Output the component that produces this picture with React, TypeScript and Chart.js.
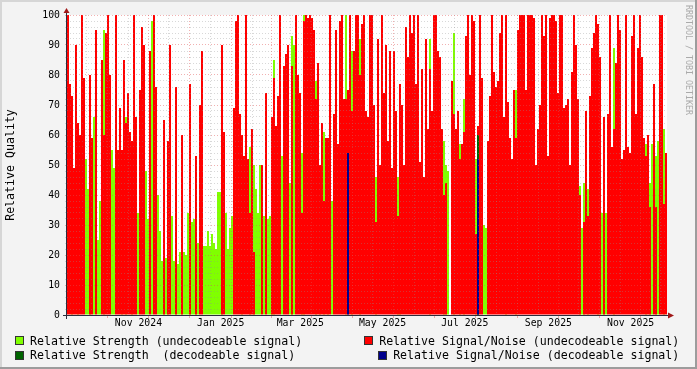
import { useEffect, useRef } from 'react';
import { Chart, registerables } from 'chart.js';

Chart.register(...registerables);

// Time span of the graph (UTC days)
const START = Date.UTC(2024, 8, 24);
const END = Date.UTC(2025, 11, 13);
const BIN_COUNT = 300;

// Relative Signal/Noise (undecodeable signal), one value per time bin
const snrUndecodeable: (number | null)[] = [
  100, 77, 73, 49, 90, 64, 60, 100, 79, null,
  null, 80, 59, null, 95, null, null, 85, 60, 94,
  100, 80, null, null, 100, 55, 69, 55, 85, 64,
  74, 61, 58, 100, 66, null, 75, 96, 90, null,
  null, 88, null, 100, 76, null, null, null, 65, null,
  58, 90, null, null, 76, null, null, 60, null, null,
  null, 77, null, null, 53, null, 70, 88, null, null,
  null, null, null, null, null, null, null, 90, 61, null,
  null, null, null, 69, 98, 100, 67, 60, 53, 100,
  52, 34, 62, 21, null, null, null, 50, null, 74,
  null, null, 66, 79, 63, 73, 100, null, 83, 87,
  90, null, 83, null, 100, 80, 74, 34, 98, 100,
  99, 100, 99, 95, 72, 84, 50, 64, 38, 59,
  59, 100, null, 67, 95, 57, 98, 100, 72, 72,
  75, 100, 68, 88, 100, 100, 80, 97, 100, 68,
  66, 100, 100, 70, 31, 92, 50, 100, 74, 90,
  58, 88, 49, 88, 68, 33, 77, 70, 50, 96,
  86, 100, 94, 100, 77, 100, 51, 82, 46, 92,
  62, 82, 68, 100, 100, 88, 86, 62, 40, 44,
  null, null, 78, 67, 62, 68, 52, 57, 61, 93,
  100, 80, 100, 98, 27, 63, 100, 79, null, null,
  58, 73, 100, 81, 76, 78, 94, 100, 66, 100,
  71, 59, 52, 75, 59, 95, 100, 100, 100, 75,
  100, 100, 100, 99, 50, 62, 70, 100, 93, 100,
  53, 99, 100, 100, 98, 74, 100, 100, 69, 70,
  72, 50, 81, 100, 90, 72, 40, null, 31, 68,
  33, 73, 89, 94, 100, 97, 86, null, 66, null,
  67, 100, 56, 62, 84, 100, 95, 52, 55, 100,
  56, 54, 93, 100, 67, 89, 100, 86, 59, 53,
  60, 36, null, 77, 36, null, 100, 100, 37, 54,
];

// Relative Strength (undecodeable signal)
const strengthUndecodeable: (number | null)[] = [
  null, null, 46, null, null, 48, null, null, null, 52,
  42, 40, null, 66, null, 25, 38, null, 95, null,
  null, null, 55, 49, null, null, null, 50, null, 66,
  null, null, 54, null, null, 34, null, null, null, 48,
  32, null, 98, null, null, 40, 28, 18, 22, 19,
  22, null, 33, 18, 18, 17, 21, 28, 21, 20,
  34, 46, 31, 32, 46, 24, null, null, 23, 23,
  28, 23, 27, 24, 22, 41, 41, 25, null, 34,
  22, 29, 33, null, null, null, null, 38, null, null,
  null, 56, null, 50, 42, 34, 50, null, 33, null,
  32, 33, 32, 85, null, null, null, 53, null, null,
  null, 44, 93, 90, null, null, null, 54, 100, null,
  null, null, null, null, 78, null, 50, null, 61, null,
  57, null, 38, null, null, null, null, null, null, 100,
  null, null, 88, null, null, null, 92, null, null, null,
  null, null, null, null, 46, null, null, null, null, null,
  null, null, null, null, null, 46, 59, null, null, null,
  null, null, null, null, null, null, null, null, null, null,
  null, 92, null, null, null, null, null, null, 58, 50,
  48, null, null, 94, null, null, 57, null, 72, null,
  null, null, null, null, 52, null, null, null, 30, 29,
  null, null, null, null, null, null, null, null, null, 100,
  null, null, null, null, 75, null, null, null, null, null,
  null, null, null, null, null, null, null, null, null, null,
  null, null, null, null, null, null, null, null, null, null,
  null, null, null, null, null, null, 43, 29, 44, null,
  42, null, null, null, null, 35, null, 34, 25, 34,
  null, null, null, 89, null, null, null, null, null, null,
  null, null, null, null, null, null, null, null, null, 57,
  null, 44, 57, null, 53, 58, null, null, 62, null,
];

// Decodeable signal readings: [bin, value]
const strengthDecodeablePoints: [number, number][] = [[205, 60]];
const snrDecodeablePoints: [number, number][] = [[140, 54], [205, 52]];

const X_LABELS = ['Nov 2024', 'Jan 2025', 'Mar 2025', 'May 2025', 'Jul 2025', 'Sep 2025', 'Nov 2025'];
const X_LABEL_MONTHS: [number, number][] = [[2024, 10], [2025, 0], [2025, 2], [2025, 4], [2025, 6], [2025, 8], [2025, 10]];

const DAY = 86400000;
const BIN_MS = (END - START) / BIN_COUNT;
const binTimes = snrUndecodeable.map((_, i) => START + (i + 0.5) * BIN_MS);

function sparse(points: [number, number][]): (number | null)[] {
  const arr: (number | null)[] = new Array(BIN_COUNT).fill(null);
  points.forEach(([i, v]) => { arr[i] = v; });
  return arr;
}

// major grid at each month start, minor grid half-way through each month
const monthStarts: number[] = [];
const midMonths: number[] = [];
for (let k = -1; ; k++) {
  const t = Date.UTC(2024, 9 + k, 1);
  if (t > END) break;
  if (t >= START) monthStarts.push(t);
  const mid = t + 15 * DAY;
  if (mid >= START && mid <= END) midMonths.push(mid);
}
const labelTicks = X_LABEL_MONTHS.map(([y, m]) => Date.UTC(y, m, 1) + 15 * DAY);

const GRID_MINOR = 'rgba(143,143,143,0.35)';
const GRID_MAJOR = 'rgba(224,80,80,0.45)';
const AXIS = '#2c2c3c';
const ARROW = '#a01818';
const FONT = 'DejaVu Sans Mono';

const framePlugin = {
  id: 'rrdFrame',
  beforeDraw(chart: any) {
    const { ctx, chartArea: a, width, height } = chart;
    ctx.save();
    ctx.fillStyle = '#f3f3f3';
    ctx.fillRect(0, 0, width, height);
    ctx.fillStyle = '#d6d6d6';
    ctx.fillRect(0, 0, width, 2);
    ctx.fillRect(0, 0, 2, height);
    ctx.fillStyle = '#9c9c9c';
    ctx.fillRect(0, height - 2, width, 2);
    ctx.fillRect(width - 2, 0, 2, height);
    ctx.fillStyle = '#ffffff';
    ctx.fillRect(a.left, a.top, a.right - a.left, a.bottom - a.top);
    ctx.restore();
  },
  afterDraw(chart: any) {
    const { ctx, chartArea: a } = chart;
    ctx.save();
    ctx.strokeStyle = AXIS;
    ctx.lineWidth = 1;
    ctx.beginPath();
    ctx.moveTo(a.left - 4, a.bottom + 0.5);
    ctx.lineTo(a.right + 2, a.bottom + 0.5);
    ctx.moveTo(a.left - 0.5, a.bottom + 4);
    ctx.lineTo(a.left - 0.5, a.top - 3);
    ctx.stroke();
    ctx.fillStyle = ARROW;
    ctx.beginPath();
    ctx.moveTo(a.left - 3.5, a.top - 2);
    ctx.lineTo(a.left + 2.5, a.top - 2);
    ctx.lineTo(a.left - 0.5, a.top - 7);
    ctx.closePath();
    ctx.fill();
    ctx.beginPath();
    ctx.moveTo(a.right + 1, a.bottom - 2.5);
    ctx.lineTo(a.right + 1, a.bottom + 3.5);
    ctx.lineTo(a.right + 7, a.bottom + 0.5);
    ctx.closePath();
    ctx.fill();
    ctx.restore();
  },
};

const isMajor = (v: number) => monthStarts.includes(v);

export default function App() {
  const ref = useRef<HTMLCanvasElement>(null);

  useEffect(() => {
    document.body.style.margin = '0';
    const barBase = {
      grouped: false,
      categoryPercentage: 1,
      barPercentage: 1,
      borderWidth: 0,
      inflateAmount: 0,
    };
    const chart = new Chart(ref.current!, {
      type: 'bar',
      data: {
        labels: binTimes,
        datasets: [
          { ...barBase, label: 'Relative Signal/Noise (decodeable signal)', data: sparse(snrDecodeablePoints), backgroundColor: '#00008c', order: 1 },
          { ...barBase, label: 'Relative Strength  (decodeable signal)', data: sparse(strengthDecodeablePoints), backgroundColor: '#006400', order: 2 },
          { ...barBase, label: 'Relative Signal/Noise (undecodeable signal)', data: snrUndecodeable, backgroundColor: '#ff0000', order: 3 },
          { ...barBase, label: 'Relative Strength (undecodeable signal)', data: strengthUndecodeable, backgroundColor: '#80ff00', order: 4 },
        ],
      } as any,
      options: {
        responsive: false,
        animation: false,
        events: [],
        layout: { padding: { left: 0, right: 30, top: 15, bottom: 34 } },
        plugins: { legend: { display: false }, tooltip: { enabled: false } },
        scales: {
          x: {
            type: 'linear',
            min: START,
            max: END,
            offset: false,
            afterBuildTicks: (scale: any) => {
              const all = [...monthStarts, ...midMonths].sort((p, q) => p - q);
              scale.ticks = all.map((value) => ({ value }));
            },
            afterFit: (scale: any) => { scale.height = 20; },
            ticks: {
              autoSkip: false,
              maxRotation: 0,
              padding: 0,
              color: '#000',
              font: { family: FONT, size: 9.8 },
              callback: (value: any) => {
                const i = labelTicks.indexOf(Number(value));
                return i >= 0 ? X_LABELS[i] : '';
              },
            },
            grid: {
              z: 1,
              color: (c: any) => (isMajor(c.tick?.value) ? GRID_MAJOR : GRID_MINOR),
              tickWidth: (c: any) => (isMajor(c.tick?.value) ? 1 : 0),
              tickColor: GRID_MAJOR,
              tickLength: 3,
            },
            border: { display: false, dash: [1, 2] },
          },
          y: {
            type: 'linear',
            min: 0,
            max: 100,
            afterFit: (scale: any) => { scale.width = 67; },
            title: {
              display: true,
              text: 'Relative Quality',
              color: '#000',
              font: { family: FONT, size: 11.6 },
              padding: { top: 4.5, bottom: 0 },
            },
            ticks: {
              stepSize: 2,
              autoSkip: false,
              padding: 5,
              color: '#000',
              font: { family: FONT, size: 9.8 },
              callback: (value: any) => (Number(value) % 10 === 0 ? String(value) : ''),
            },
            grid: {
              z: 1,
              color: (c: any) => (Number(c.tick?.value) % 10 === 0 ? GRID_MAJOR : GRID_MINOR),
              tickLength: 2,
            },
            border: { display: false, dash: [1, 2] },
          },
        },
      } as any,
      plugins: [framePlugin],
    });
    return () => chart.destroy();
  }, []);

  const text: React.CSSProperties = {
    position: 'absolute',
    fontFamily: FONT,
    fontSize: 11.6,
    lineHeight: '12px',
    whiteSpace: 'pre',
    color: '#000',
    display: 'flex',
    alignItems: 'center',
  };
  const box = (color: string): React.CSSProperties => ({
    display: 'inline-block',
    width: 7,
    height: 7,
    background: color,
    border: '1px solid #333',
    marginRight: 6,
  });

  return (
    <div style={{ position: 'relative', width: 697, height: 369 }}>
      <canvas ref={ref} width={697} height={369} style={{ display: 'block', width: 697, height: 369 }} />
      <div style={{ ...text, left: 15, top: 334.7 }}>
        <span style={box('#80ff00')} />
        <span>Relative Strength (undecodeable signal)</span>
      </div>
      <div style={{ ...text, left: 15, top: 349 }}>
        <span style={box('#006400')} />
        <span>{'Relative Strength  (decodeable signal)'}</span>
      </div>
      <div style={{ ...text, right: 17.7, top: 334.7 }}>
        <span style={box('#ff0000')} />
        <span>Relative Signal/Noise (undecodeable signal)</span>
      </div>
      <div style={{ ...text, right: 17.7, top: 349 }}>
        <span style={box('#00008c')} />
        <span>Relative Signal/Noise (decodeable signal)</span>
      </div>
      <div
        style={{
          position: 'absolute',
          left: 683.5,
          top: 5,
          writingMode: 'vertical-rl',
          fontFamily: FONT,
          fontSize: 8.3,
          lineHeight: '9px',
          color: '#aaaaaa',
          whiteSpace: 'pre',
        }}
      >
        RRDTOOL / TOBI OETIKER
      </div>
    </div>
  );
}
